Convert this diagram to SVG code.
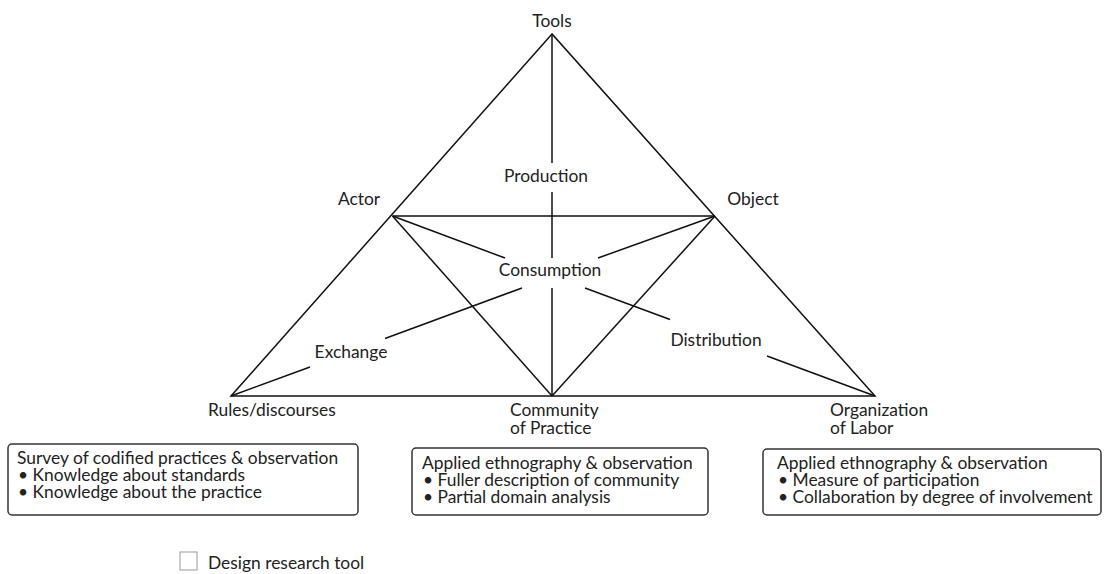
<svg xmlns="http://www.w3.org/2000/svg" width="1106" height="574" viewBox="0 0 1106 574">
<style>
text{font-family:Lato,"Open Sans","Liberation Sans",sans-serif;font-size:17.4px;fill:#222}
.c text{text-anchor:middle}
.ln{stroke:#111;stroke-width:1.5;fill:none}
.box{fill:#fff;stroke:#333;stroke-width:1.5}
.sh{fill:none;stroke:#555;stroke-width:1.5}
</style>
<rect width="1106" height="574" fill="#fff"/>
<g id="connectors" class="ln">
<polygon points="552,34 231,396 875,396" stroke-linejoin="miter"/>
<line x1="392.5" y1="216" x2="715" y2="216"/>
<line x1="392.5" y1="216" x2="552" y2="396"/>
<line x1="715" y1="216" x2="552" y2="396"/>
<line x1="552" y1="34" x2="552" y2="163"/>
<line x1="552" y1="192" x2="552" y2="258"/>
<line x1="552" y1="288" x2="552" y2="396"/>
<line x1="392.5" y1="216" x2="505" y2="258"/>
<line x1="715" y1="216" x2="598" y2="258"/>
<line x1="522" y1="288" x2="385" y2="338.5"/>
<line x1="310" y1="367" x2="231" y2="396"/>
<line x1="585" y1="288" x2="670" y2="319.5"/>
<line x1="767" y1="356" x2="875" y2="396"/>
</g>
<g id="tools" class="c"><text x="552" y="27">Tools</text></g>
<g id="actor" class="c"><text x="359" y="205">Actor</text></g>
<g id="object" class="c"><text x="753" y="205">Object</text></g>
<g id="production" class="c"><text x="546" y="182">Production</text></g>
<g id="consumption" class="c"><text x="550" y="276">Consumption</text></g>
<g id="exchange" class="c"><text x="351" y="358">Exchange</text></g>
<g id="distribution" class="c"><text x="716" y="346">Distribution</text></g>
<g id="rules"><text x="208" y="416">Rules/discourses</text></g>
<g id="community"><text x="510" y="416">Community</text><text x="510" y="434">of Practice</text></g>
<g id="organization"><text x="830" y="416">Organization</text><text x="830" y="434">of Labor</text></g>
<g id="box1">
<rect class="box" x="8" y="444" width="350" height="71" rx="4"/>
<text x="17" y="464">Survey of codified practices &amp; observation</text>
<text x="18" y="481">• Knowledge about standards</text>
<text x="18" y="498">• Knowledge about the practice</text>
</g>
<g id="box2">
<rect class="box" x="412" y="448" width="296" height="67" rx="4"/>
<text x="422" y="469">Applied ethnography &amp; observation</text>
<text x="423" y="486">• Fuller description of community</text>
<text x="423" y="503">• Partial domain analysis</text>
</g>
<g id="box3">
<rect class="box" x="763" y="449" width="338" height="66" rx="4"/>
<text x="777" y="469">Applied ethnography &amp; observation</text>
<text x="778" y="486">• Measure of participation</text>
<text x="778" y="503">• Collaboration by degree of involvement</text>
</g>
<g id="legend">
<rect x="180" y="552" width="17" height="18" fill="#fff" stroke="#aaa" stroke-width="1.2"/>
<text x="208" y="569">Design research tool</text>
</g>
</svg>
